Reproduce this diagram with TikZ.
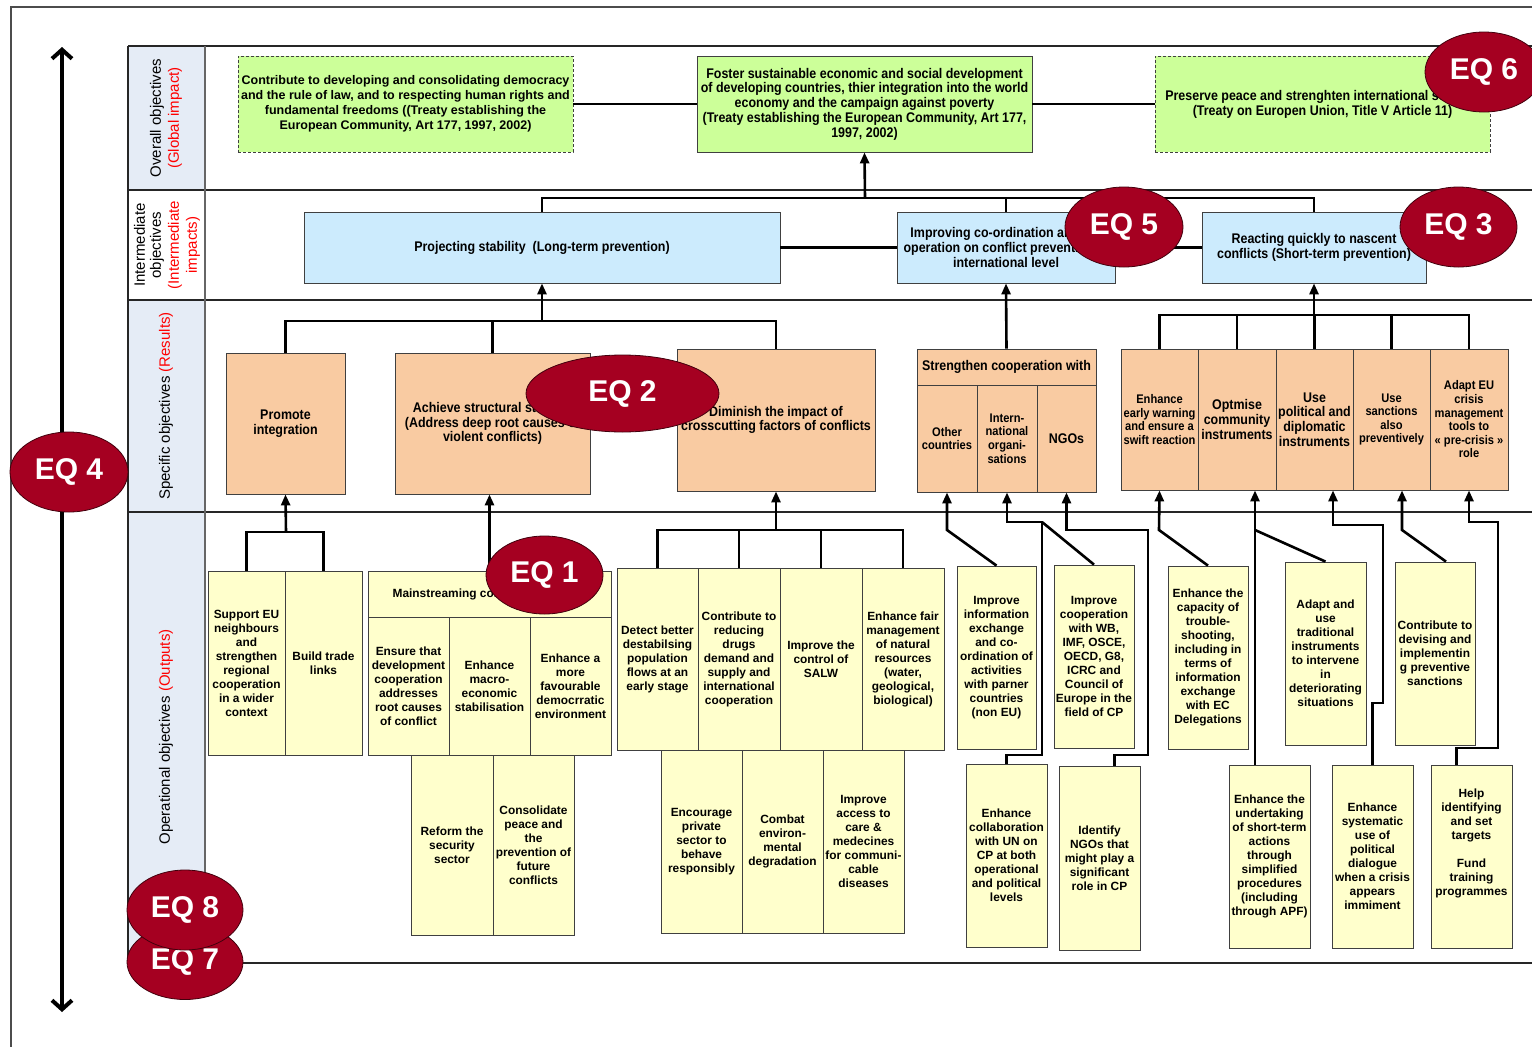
\documentclass[tikz,border=0pt]{standalone}
\usepackage{fontspec}
\setmainfont{Liberation Sans}
\newfontfamily\narrowfont[FakeStretch=0.89]{Liberation Sans}
\usetikzlibrary{shapes.geometric,arrows.meta}

\definecolor{objgreen}{HTML}{CCFF99}
\definecolor{impblue}{HTML}{CCEBFD}
\definecolor{respeach}{HTML}{F9CBA2}
\definecolor{outyellow}{HTML}{FFFFCC}
\definecolor{bandblue}{HTML}{E5ECF6}
\definecolor{eqred}{HTML}{A50021}

\newcommand\fOp{\bfseries\fontsize{11.9}{14}\selectfont}
\newcommand\fTop{\bfseries\fontsize{12.5}{15}\selectfont}
\newcommand\fNar{\narrowfont\bfseries\fontsize{14}{14.8}\selectfont}
\newcommand\fNarS{\narrowfont\bfseries\fontsize{12.5}{13.6}\selectfont}
\newcommand\fLab{\fontsize{15}{18}\selectfont}
\newcommand\fEq{\bfseries\fontsize{30}{32}\selectfont}

% box from its corners: name, x1, y1, x2, y2, style, text
\newcommand\bx[7]{\node[#6, minimum width={#4-#2}, minimum height={#5-#3}] (#1) at ({(#2+#4)/2},{(#3+#5)/2}) {#7};}

\tikzset{
  box/.style={draw=black!75, line width=0.8pt, inner sep=0pt, align=center},
  topdash/.style={box, fill=objgreen, draw=black!75, dash pattern=on 3pt off 2pt, font=\fTop},
  topsolid/.style={box, fill=objgreen, font=\fNar},
  blu/.style={box, fill=impblue, font=\fNar},
  pch/.style={box, fill=respeach, font=\fNar},
  yel/.style={box, fill=outyellow, font=\fOp},
  lab/.style={align=center, font=\fLab, inner sep=0pt},
  tbl/.style={line width=1.2pt, black!85},
  conn/.style={line width=2.6pt, line join=miter},
  arr/.style={conn, -{Triangle[length=11pt,width=9pt]}},
  eq/.style={ellipse, fill=eqred, draw=black!60!eqred, line width=0.8pt, text=white,
             font=\fEq, inner sep=0pt, minimum width=118pt, minimum height=80pt},
}

\begin{document}
\begin{tikzpicture}[x=1pt, y=-1pt]
\useasboundingbox (0,0) rectangle (1532,1047);

% outer frame
\draw[black!70, line width=1.2pt] (11,1047) -- (11,7) -- (1532,7);

% level band (the intermediate cell stays white) and row rules
\fill[bandblue] (128,46) rectangle (205,190);
\fill[bandblue] (128,300) rectangle (205,963);
\foreach \yy in {46,190,300,512,963} {\draw[tbl] (128,\yy) -- (1532,\yy);}
\draw[tbl] (128,46) -- (128,963);
\draw[black!60, line width=1.2pt] (205,46) -- (205,963);

% vertical scale arrow
\coordinate (scaleTop) at (62,47);
\coordinate (scaleBot) at (62,1012);
\draw[line width=4pt, {Straight Barb[length=9pt,width=20pt]}-{Straight Barb[length=9pt,width=20pt]}] (scaleTop) -- (scaleBot);

% level labels
\node[lab, rotate=90] (labo) at (166,118) {Overall objectives\\\textcolor{red}{(Global impact)}};
\node[lab, rotate=90] (labi) at (167,245) {Intermediate\\[-2pt]objectives\\\textcolor{red}{(Intermediate}\\\textcolor{red}{impacts)}};
\node[lab, rotate=90] (labs) at (166,406) {Specific objectives \textcolor{red}{(Results)}};
\node[lab, rotate=90] (labp) at (166,737) {Operational objectives \textcolor{red}{(Outputs)}};

% overall objectives
\bx{ovdem}{238}{56}{573}{152}{topdash}{Contribute to developing and consolidating democracy\\and the rule of law, and to respecting human rights and\\fundamental freedoms ((Treaty establishing the\\European Community, Art 177, 1997, 2002)}
\bx{ovdev}{697}{56}{1032}{152}{topsolid}{Foster sustainable economic and social development\\of developing countries, thier integration into the world\\economy and the campaign against poverty\\(Treaty establishing the European Community, Art 177,\\1997, 2002)}
\bx{ovpeace}{1155}{56}{1490}{152}{topdash, font=\fNar}{Preserve peace and strenghten international security\\(Treaty on Europen Union, Title V Article 11)}
\draw[conn] (ovdem.east) -- (ovdev.west);
\draw[conn] (ovdev.east) -- (ovpeace.west);

% intermediate objectives
\bx{proj}{304}{212}{780}{283}{blu}{Projecting stability\ \ (Long-term prevention)}
\bx{coord}{897}{212}{1115}{283}{blu}{Improving co-ordination and co-\\operation on conflict prevention at\\international level}
\bx{react}{1202}{212}{1426}{283}{blu}{Reacting quickly to nascent\\conflicts (Short-term prevention)}
\draw[conn] (proj.east) -- (coord.west);
\draw[conn] (coord.east) -- (react.west);

% specific objectives
\bx{promote}{226}{353}{345}{494}{pch}{Promote\\integration}
\bx{achieve}{395}{353}{590}{494}{pch}{Achieve structural stability\\(Address deep root causes of\\violent conflicts)}
\bx{dimin}{677}{349}{875}{491}{pch}{Diminish the impact of\\crosscutting factors of conflicts}
\bx{strhead}{917}{349}{1096}{385}{pch}{Strengthen cooperation with}
\bx{other}{917}{385}{977}{492}{pch, font=\fNarS}{Other\\countries}
\bx{intorg}{977}{385}{1037}{492}{pch, font=\fNarS}{Intern-\\national\\organi-\\sations}
\bx{ngos}{1037}{385}{1096}{492}{pch}{NGOs}
\bx{early}{1121}{349}{1198}{490}{pch, font=\fNarS}{Enhance\\early warning\\and ensure a\\swift reaction}
\bx{optm}{1198}{349}{1276}{490}{pch}{Optmise\\community\\instruments}
\bx{usepol}{1276}{349}{1353}{490}{pch}{Use\\political and\\diplomatic\\instruments}
\bx{sanct}{1353}{349}{1430}{490}{pch, font=\fNarS}{Use\\sanctions\\also\\preventively}
\bx{adapt}{1430}{349}{1508}{490}{pch, font=\fNarS}{Adapt EU\\crisis\\management\\tools to\\« pre-crisis »\\role}

% operational objectives
\bx{support}{208}{571}{285}{755}{yel}{Support EU\\neighbours\\and\\strengthen\\regional\\cooperation\\in a wider\\context}
\bx{trade}{285}{571}{362}{755}{yel}{Build trade\\links}
\bx{mainhdr}{368}{571}{611}{617}{yel}{Mainstreaming conflict prevention}
\bx{ensure}{368}{617}{449}{755}{yel}{Ensure that\\development\\cooperation\\addresses\\root causes\\of conflict}
\bx{macro}{449}{617}{530}{755}{yel}{Enhance\\macro-\\economic\\stabilisation}
\bx{democ}{530}{617}{611}{755}{yel}{Enhance a\\more\\favourable\\democrratic\\environment}
\bx{reform}{411}{755}{493}{935}{yel}{Reform the\\security\\sector}
\bx{consol}{493}{755}{574}{935}{yel}{Consolidate\\peace and\\the\\prevention of\\future\\conflicts}
\bx{detect}{617}{568}{698}{750}{yel}{Detect better\\destabilsing\\population\\flows at an\\early stage}
\bx{drugs}{698}{568}{780}{750}{yel}{Contribute to\\reducing\\drugs\\demand and\\supply and\\international\\cooperation}
\bx{salw}{780}{568}{862}{750}{yel}{Improve the\\control of\\SALW}
\bx{fair}{862}{568}{944}{750}{yel}{Enhance fair\\management\\of natural\\resources\\(water,\\geological,\\biological)}
\bx{priv}{661}{750}{742}{933}{yel}{Encourage\\private\\sector to\\behave\\responsibly}
\bx{envir}{742}{750}{823}{933}{yel}{Combat\\environ-\\mental\\degradation}
\bx{care}{823}{750}{904}{933}{yel}{Improve\\access to\\care \&\\medecines\\for communi-\\cable\\diseases}
\bx{infoex}{957}{566}{1036}{749}{yel}{Improve\\information\\exchange\\and co-\\ordination of\\activities\\with parner\\countries\\(non EU)}
\bx{wbimf}{1054}{565}{1134}{748}{yel}{Improve\\cooperation\\with WB,\\IMF, OSCE,\\OECD, G8,\\ICRC and\\Council of\\Europe in the\\field of CP}
\bx{unc}{966}{764}{1047}{947}{yel}{Enhance\\collaboration\\with UN on\\CP at both\\operational\\and political\\levels}
\bx{ngo2}{1059}{766}{1140}{950}{yel}{Identify\\NGOs that\\might play a\\significant\\role in CP}
\bx{troub}{1168}{566}{1248}{749}{yel}{Enhance the\\capacity of\\trouble-\\shooting,\\including in\\terms of\\information\\exchange\\with EC\\Delegations}
\bx{tradit}{1285}{562}{1366}{745}{yel}{Adapt and\\use\\traditional\\instruments\\to intervene\\in\\deteriorating\\situations}
\bx{devis}{1395}{562}{1475}{745}{yel}{Contribute to\\devising and\\implementin\\g preventive\\sanctions}
\bx{shortt}{1229}{765}{1310}{948}{yel}{Enhance the\\undertaking\\of short-term\\actions\\through\\simplified\\procedures\\(including\\through APF)}
\bx{dialog}{1332}{765}{1413}{948}{yel}{Enhance\\systematic\\use of\\political\\dialogue\\when a crisis\\appears\\immiment}
\bx{help}{1431}{765}{1512}{948}{yel}{Help\\identifying\\and set\\targets\\~\\Fund\\training\\programmes\\~\\~}

% intermediate -> overall
\coordinate (ibr) at (865,198);
\draw[conn] (proj.north) |- (ibr) -| (react.north);
\draw[conn] (coord.north) -- (coord.north |- ibr);
\draw[arr] (ibr) -- (ovdev.south);

% specific -> intermediate
\coordinate (sbr) at (542,321);
\draw[conn] (promote.north) |- (sbr) -| (dimin.north);
\draw[conn] (achieve.north) -- (achieve.north |- sbr);
\draw[arr] (sbr) -- (proj.south);
\draw[arr] (strhead.north) -- (coord.south);
\coordinate (rbr) at (1314,315);
\draw[conn] (early.north) |- (rbr) -| (adapt.north);
\foreach \b in {optm,usepol,sanct} {\draw[conn] (\b.north) -- (\b.north |- rbr);}
\draw[arr] (rbr) -- (react.south);

% operational -> specific
\coordinate (pbr) at (286,532);
\draw[conn] (support.north) |- (pbr) -| (trade.north);
\draw[arr] (pbr) -- (promote.south);
\draw[arr] (mainhdr.north) -- (mainhdr.north |- achieve.south);
\coordinate (dbr) at (776,530);
\draw[conn] (detect.north) |- (dbr) -| (fair.north);
\foreach \b in {drugs,salw} {\draw[conn] (\b.north) -- (\b.north |- dbr);}
\draw[arr] (dbr) -- (dimin.south);

% cooperation partners
\coordinate (ka) at (947,530);
\draw[arr] (infoex.north) -- (ka) -- (other.south);
\coordinate (kb1) at (1042,522);
\coordinate (kb2) at (1042,755);
\draw[conn] (wbimf.north) -- (kb1);
\draw[arr] (unc.north) |- (kb2) -- (kb1) -| (intorg.south);
\coordinate (kc1) at (1148,530);
\coordinate (kc2) at (1148,755);
\draw[arr] ([xshift=15pt]ngo2.north) |- (kc2) -- (kc1) -| (ngos.south);

% short-term prevention
\coordinate (kd) at (1159,530);
\draw[arr] (troub.north) -- (kd) -- (early.south);
\coordinate (ke) at (1255,530);
\draw[arr] (shortt.north -| ke) -- (ke |- optm.south);
\draw[conn] (tradit.north) -- (ke);
\coordinate (kf1) at (1383,703);
\coordinate (kf2) at (1383,525);
\draw[arr] (dialog.north) |- (kf1) -- (kf2) -| ([xshift=18.5pt]usepol.south);
\coordinate (kg) at (1402,530);
\draw[arr] ([xshift=11pt]devis.north) -- (kg) -- (kg |- sanct.south);
\coordinate (kh1) at (1498,748);
\coordinate (kh2) at (1498,522);
\draw[arr] ([xshift=-15pt]help.north) |- (kh1) -- (kh2) -| (adapt.south);

% evaluation questions
\node[eq] (eq4) at (69,472) {EQ 4};
\node[eq, minimum width=116pt, minimum height=75pt] (eq7) at (185,962) {EQ 7};
\node[eq, minimum width=116pt] (eq8) at (185,910) {EQ 8};
\node[eq, minimum width=117pt, minimum height=78pt] (eq1) at (544.5,575) {EQ 1};
\node[eq, minimum width=193pt, minimum height=77pt] (eq2) at (622.5,393.5) {EQ 2};
\node[eq] (eq5) at (1124,227) {EQ 5};
\node[eq, minimum width=117pt] (eq3) at (1458.5,227) {EQ 3};
\node[eq] (eq6) at (1484,72) {EQ 6};
\end{tikzpicture}
\end{document}
